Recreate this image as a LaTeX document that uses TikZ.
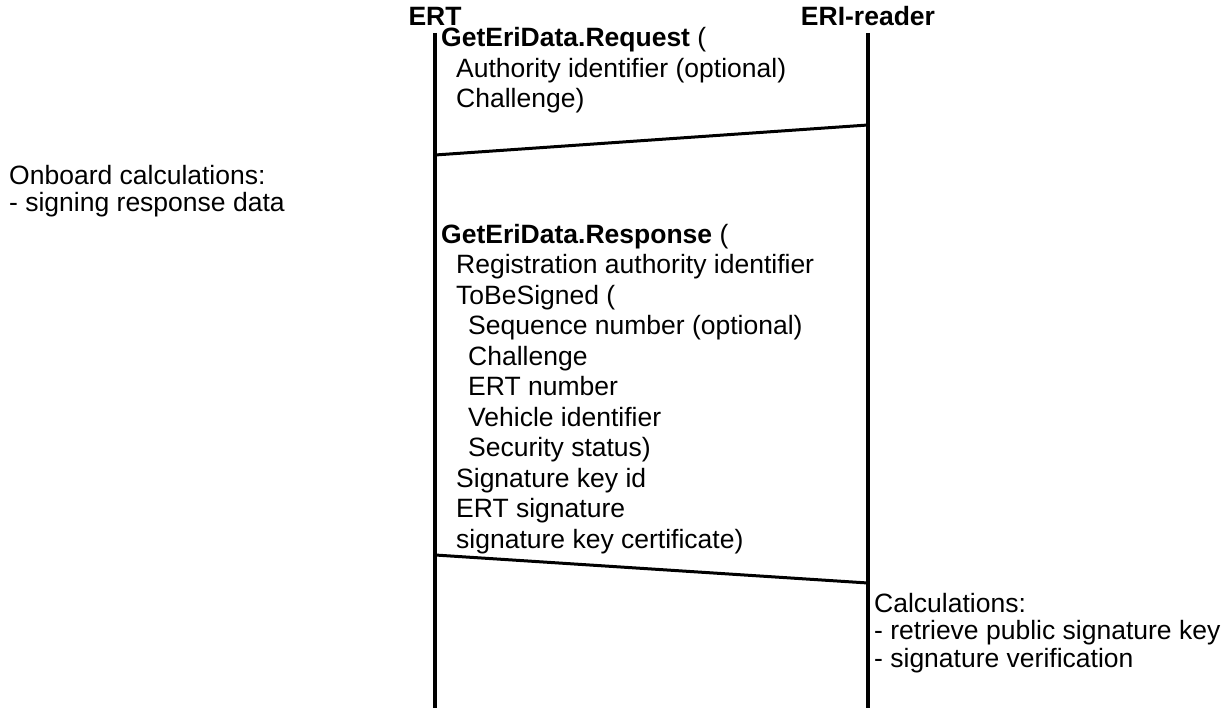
\documentclass[tikz,border=0pt]{standalone}
\usepackage{fontspec}
\setmainfont{Liberation Sans}
\usetikzlibrary{positioning}

\tikzset{
  lifeline/.style={line width=3.5pt},
  msgline/.style={line width=3pt},
  head/.style={font=\bfseries\fontsize{26.5}{30.5}\selectfont, anchor=base, inner sep=0pt},
  % base of a multi-line block = baseline of its last line
  block/.style={font=\fontsize{26.5}{30.5}\selectfont, align=left, anchor=base west, inner sep=0pt},
  note/.style={font=\fontsize{26.5}{27.5}\selectfont, align=left, anchor=base west, inner sep=0pt},
}
\newcommand{\indA}{\hspace*{15pt}}
\newcommand{\indB}{\hspace*{27pt}}

\begin{document}
\begin{tikzpicture}[x=1pt,y=-1pt]
  \useasboundingbox (0,0) rectangle (1232,708);

  % --- Lifeline heads ---
  \node[head] (ert) at (435,26) {ERT};
  \node[head] (eri) at (868,26) {ERI-reader};

  % --- Lifelines ---
  \coordinate (ert-top) at (435,33);
  \coordinate (ert-bot) at (435,708);
  \coordinate (eri-top) at (868,33);
  \coordinate (eri-bot) at (868,708);
  \draw[lifeline] (ert-top) -- (ert-bot);
  \draw[lifeline] (eri-top) -- (eri-bot);

  % --- Messages ---
  \coordinate (req-from) at (868,125);
  \coordinate (req-to) at (435,155);
  \coordinate (rsp-from) at (435,555);
  \coordinate (rsp-to) at (868,583);
  \draw[msgline] (req-from) -- (req-to);
  \draw[msgline] (rsp-from) -- (rsp-to);

  % --- Message contents ---
  \node[block] (req) at (441,108) {\textbf{GetEriData.Request} (\\
    \indA Authority identifier (optional)\\
    \indA Challenge)};
  \node[block] (rsp) at (441,548) {\textbf{GetEriData.Response} (\\
    \indA Registration authority identifier\\
    \indA ToBeSigned (\\
    \indB Sequence number (optional)\\
    \indB Challenge\\
    \indB ERT number\\
    \indB Vehicle identifier\\
    \indB Security status)\\
    \indA Signature key id\\
    \indA ERT signature\\
    \indA signature key certificate)};

  % --- Side notes ---
  \node[note] (onboard) at (9,212) {Onboard calculations:\\
    - signing response data};
  \node[note] (calc) at (874,667) {Calculations:\\
    - retrieve public signature key\\
    - signature verification};
\end{tikzpicture}
\end{document}
